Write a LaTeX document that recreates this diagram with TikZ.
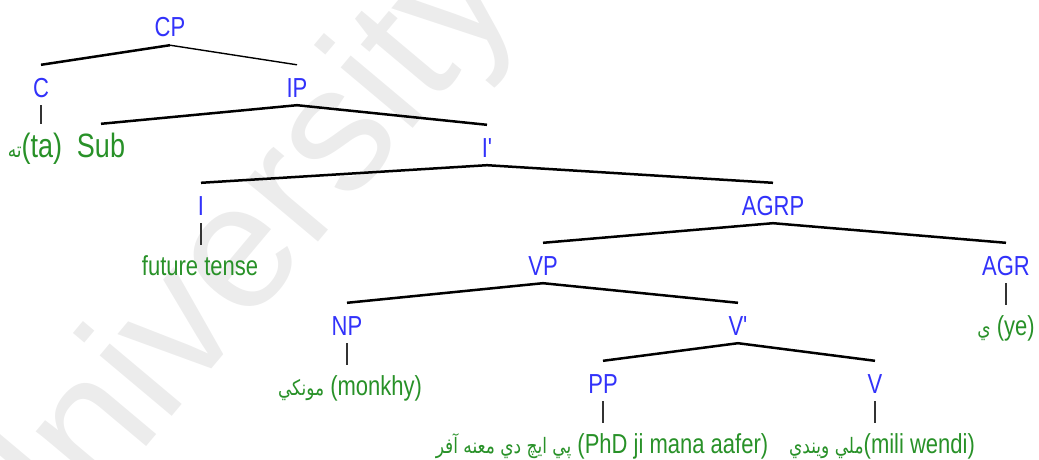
\documentclass[tikz,border=0pt]{standalone}
\usepackage{fontspec}
\setmainfont{Liberation Sans}
\newfontfamily\arab[Script=Arabic]{DejaVu Sans}
\TeXXeTstate=1
\usepackage{graphicx}
\definecolor{catblue}{RGB}{50,50,250}
\definecolor{leafgreen}{RGB}{40,145,40}
\definecolor{wmgray}{RGB}{236,236,236}
\newcommand\stretched[1]{\scalebox{1}[1.25]{#1}}
\newcommand\ar[1]{{\arab\fontsize{17}{20}\selectfont\beginR #1\endR}}
\begin{document}
\begin{tikzpicture}[x=1pt,y=-1pt,
  cat/.style={anchor=base, inner sep=0pt, text height=32pt, text depth=8pt, text=catblue, font=\fontsize{22}{26}\selectfont},
  leaf/.style={anchor=base, inner sep=0pt, text height=30pt, text depth=6pt, text=leafgreen, font=\fontsize{22}{26}\selectfont},
  bigleaf/.style={leaf, font=\fontsize{27}{30}\selectfont, text height=33pt},
  branch/.style={line width=2.5pt, black},
  thinbranch/.style={line width=1.4pt, black},
  stem/.style={line width=1.4pt, black!80},
]
\useasboundingbox (0,0) rectangle (1039,460);
\begin{scope}
\clip (0,0) rectangle (1039,460);
\node[rotate=50, anchor=base west, inner sep=0pt, text=wmgray, font=\fontsize{178}{178}\selectfont] (wm) at (18,600) {University of};
\end{scope}

% categories
\node[cat] (CP) at (170,37) {\stretched{CP}};
\node[cat] (C) at (41,97) {\stretched{C}};
\node[cat] (IP) at (297,97) {\stretched{IP}};
\node[cat] (Ibar) at (487,157) {\stretched{I\textquotesingle}};
\node[cat] (I) at (201,215) {\stretched{I}};
\node[cat] (AGRP) at (773,215) {\stretched{AGRP}};
\node[cat] (VP) at (543,275) {\stretched{VP}};
\node[cat] (AGR) at (1006,275) {\stretched{AGR}};
\node[cat] (NP) at (347,335) {\stretched{NP}};
\node[cat] (Vbar) at (738,335) {\stretched{V\textquotesingle}};
\node[cat] (PP) at (603,393) {\stretched{PP}};
\node[cat] (V) at (875,393) {\stretched{V}};

% leaves
\node[bigleaf] (ta) at (35,157) {\stretched{\ar{ته}(ta)}};
\node[bigleaf] (Sub) at (101,157) {\stretched{Sub}};
\node[leaf] (fut) at (200,275) {\stretched{future tense}};
\node[leaf] (ye) at (1006,335) {\stretched{\ar{ي} (ye)}};
\node[leaf] (monkhy) at (350,395) {\stretched{\ar{مونکي} (monkhy)}};
\node[leaf] (phd) at (602,453) {\stretched{\ar{پي ايچ دي معنه آفر} (PhD ji mana aafer)}};
\node[leaf] (mili) at (882,453) {\stretched{\ar{ملي ويندي}(mili wendi)}};

% branches
\draw[branch] (CP.south) -- (C.north);
\draw[thinbranch] (CP.south) -- (IP.north);
\draw[branch] (IP.south) -- (Sub.north);
\draw[branch] (IP.south) -- (Ibar.north);
\draw[branch] (Ibar.south) -- (I.north);
\draw[branch] (Ibar.south) -- (AGRP.north);
\draw[branch] (AGRP.south) -- (VP.north);
\draw[branch] (AGRP.south) -- (AGR.north);
\draw[branch] (VP.south) -- (NP.north);
\draw[branch] (VP.south) -- (Vbar.north);
\draw[branch] (Vbar.south) -- (PP.north);
\draw[branch] (Vbar.south) -- (V.north);

% stems
\draw[stem] (C.south) -- (C.south |- ta.north);
\draw[stem] (I.south) -- (I.south |- fut.north);
\draw[stem] (AGR.south) -- (AGR.south |- ye.north);
\draw[stem] (NP.south) -- (NP.south |- monkhy.north);
\draw[stem] (PP.south) -- (PP.south |- phd.north);
\draw[stem] (V.south) -- (V.south |- mili.north);
\end{tikzpicture}
\end{document}
